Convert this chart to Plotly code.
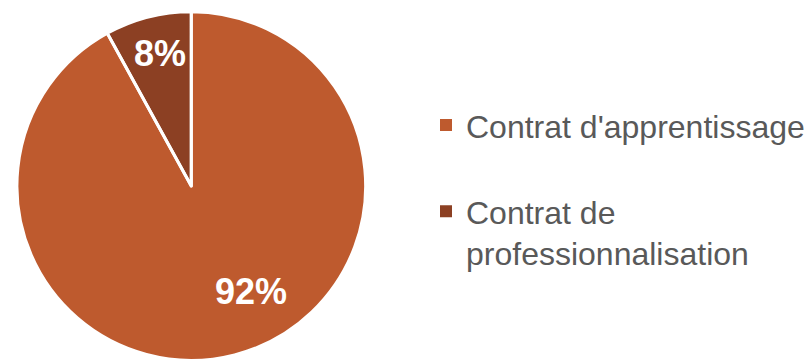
import math
import plotly.graph_objects as go

labels = ["Contrat d'apprentissage<br> ", "Contrat de<br>professionnalisation"]
values = [92, 8]
text_labels = ["92%", "8%"]
colors = ["#BE5A2E", "#8C4023"]

# label placement style (angle shift in degrees, radius fraction)
label_style = [(-15.0, 0.695), (1.0, 0.78)]

W, H = 810, 361
MT, MB = 11, 0
CX = 192
R = (H - MT - MB) / 2
CY = MT + R
dom = dict(x=[(CX - R) / W, (CX + R) / W], y=[0, 1])

# filled slices (drive the legend)
fig = go.Figure(go.Pie(
    labels=labels,
    values=values,
    textinfo="none",
    sort=False,
    direction="clockwise",
    rotation=0,
    marker=dict(colors=colors, line=dict(color="white", width=0)),
    domain=dom,
    hoverinfo="label+percent",
))
# white separators between slices
fig.add_trace(go.Pie(
    labels=labels,
    values=values,
    textinfo="none",
    sort=False,
    direction="clockwise",
    rotation=0,
    marker=dict(colors=["rgba(0,0,0,0)"] * len(values), line=dict(color="white", width=3)),
    domain=dom,
    showlegend=False,
    hoverinfo="skip",
))

total = sum(values)
cum = 0
for v, t, (shift, frac) in zip(values, text_labels, label_style):
    mid = (cum + v / 2) / total * 360 + shift
    cum += v
    px = CX + frac * R * math.sin(math.radians(mid))
    py = CY - frac * R * math.cos(math.radians(mid))
    fig.add_annotation(
        x=px / W, y=(H - MB - py) / (H - MT - MB),
        xref="paper", yref="paper",
        text=t, showarrow=False,
        xanchor="center", yanchor="middle",
        font=dict(family="Liberation Sans, Arial, sans-serif", size=36, color="white", weight="bold"),
    )

fig.update_layout(
    width=W, height=H,
    margin=dict(l=0, r=0, t=MT, b=MB),
    paper_bgcolor="white",
    plot_bgcolor="white",
    showlegend=True,
    legend=dict(
        x=0.528, y=0.752, xanchor="left", yanchor="top",
        valign="top",
        font=dict(family="Liberation Sans, Arial, sans-serif", size=32, color="#595959"),
        itemwidth=30,
    ),
)

fig.write_html("out.html")
